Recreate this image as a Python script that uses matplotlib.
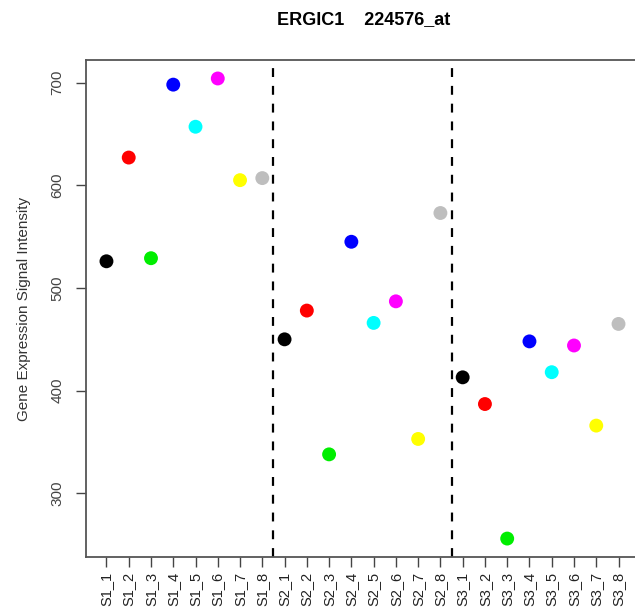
import matplotlib
matplotlib.use("Agg")
import matplotlib.pyplot as plt

plt.rcParams['font.family'] = ['Liberation Sans', 'DejaVu Sans']

# samples and values
samples = ["S1_1", "S1_2", "S1_3", "S1_4", "S1_5", "S1_6", "S1_7", "S1_8",
           "S2_1", "S2_2", "S2_3", "S2_4", "S2_5", "S2_6", "S2_7", "S2_8",
           "S3_1", "S3_2", "S3_3", "S3_4", "S3_5", "S3_6", "S3_7", "S3_8"]
signal = [526, 627, 529, 698, 657, 704, 605, 607,
          450, 478, 338, 545, 466, 487, 353, 573,
          413, 387, 256, 448, 418, 444, 366, 465]
group_colors = ["black", "#FF0000", "#00EE00", "#0000FF",
                "#00FFFF", "#FF00FF", "#FFFF00", "#BEBEBE"]
group_breaks = [8.5, 16.5]
yticks = [300, 400, 500, 600, 700]

fig = plt.figure(figsize=(6.35, 6.13), dpi=100)
ax = fig.add_axes([0.1354, 0.0914, 0.8709, 0.8106])

x = list(range(1, len(samples) + 1))
colors = [group_colors[i % 8] for i in range(len(samples))]
ax.scatter(x, signal, c=colors, s=100, zorder=3, linewidths=0)

for b in group_breaks:
    ax.axvline(b, color="black", linestyle=(0, (4, 4)), linewidth=1.6, zorder=2)

pad = 0.04 * (len(samples) - 1)
ax.set_xlim(1 - pad, len(samples) + pad)
ymin, ymax = min(signal), max(signal)
ypad = 0.04 * (ymax - ymin)
ax.set_ylim(ymin - ypad, ymax + ypad)

ax.set_xticks(x)
ax.set_xticklabels(samples, rotation=90, fontsize=10.5, color="#222222")
ax.set_yticks(yticks)
ax.set_yticklabels([str(t) for t in yticks], rotation=90, va="center",
                   fontsize=11, color="#444444")
ax.tick_params(axis="both", length=7.5, width=1, color="#444444")
ax.tick_params(axis="x", pad=3)
ax.tick_params(axis="y", pad=8)

for side in ax.spines.values():
    side.set_color("#555555")
    side.set_linewidth(1.3)

ax.set_ylabel("Gene Expression Signal Intensity", fontsize=11, color="#333333",
              labelpad=14)
fig.text(0.573, 0.968, "ERGIC1    224576_at", ha="center", va="center",
         fontsize=13, fontweight="bold")

fig.savefig("out.png", dpi=100)
